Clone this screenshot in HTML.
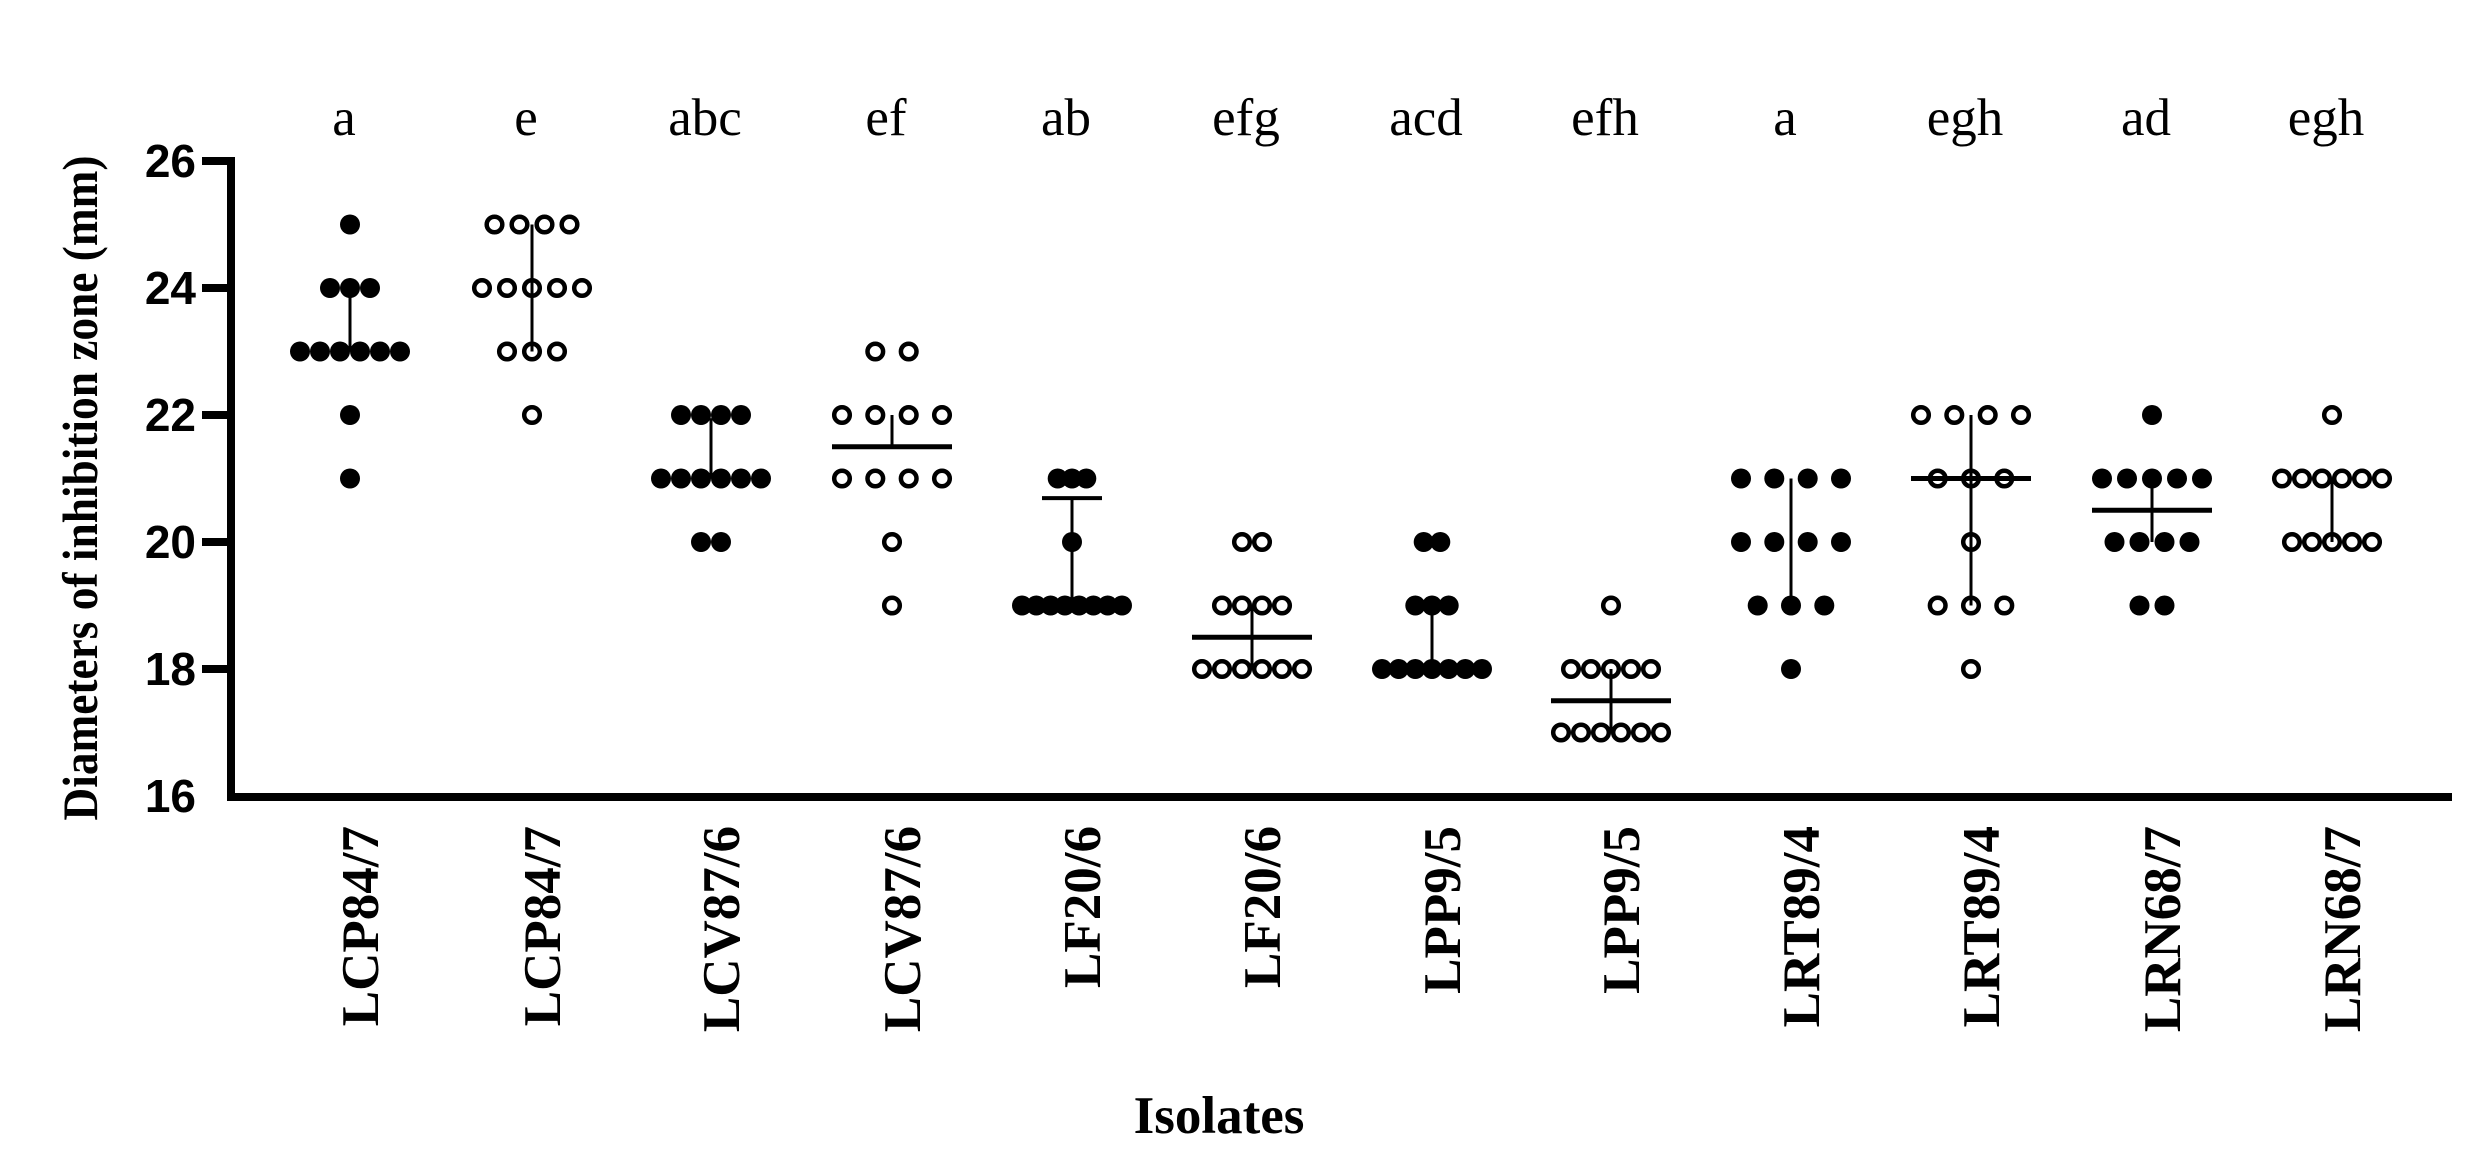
<!DOCTYPE html>
<html><head><meta charset="utf-8"><style>
html,body{margin:0;padding:0;background:#fff;}
svg{display:block;}
</style></head><body>
<svg id="s" width="2492" height="1157" viewBox="0 0 2492 1157" xmlns="http://www.w3.org/2000/svg">
<rect width="2492" height="1157" fill="#fff"/>
<g id="axes" stroke="#000" stroke-width="8" fill="none">
<line x1="231" y1="157" x2="231" y2="800"/>
<line x1="227" y1="797" x2="2452" y2="797"/>
<line x1="202" y1="161" x2="231" y2="161"/>
<line x1="202" y1="288" x2="231" y2="288"/>
<line x1="202" y1="415" x2="231" y2="415"/>
<line x1="202" y1="542" x2="231" y2="542"/>
<line x1="202" y1="669" x2="231" y2="669"/>
</g>
<g font-family="Liberation Sans, sans-serif" font-weight="bold" font-size="46" text-anchor="end">
<text x="196" y="177">26</text>
<text x="196" y="304">24</text>
<text x="196" y="431">22</text>
<text x="196" y="558">20</text>
<text x="196" y="685">18</text>
<text x="196" y="812">16</text>
</g>
<text transform="translate(97,488) rotate(-90)" font-family="Liberation Serif, serif" font-weight="bold" font-size="50" text-anchor="middle" textLength="665" lengthAdjust="spacingAndGlyphs">Diameters of inhibition zone (mm)</text>
<text x="1219" y="1133" font-family="Liberation Serif, serif" font-weight="bold" font-size="53" text-anchor="middle">Isolates</text>
<g id="data"></g>
</svg>
<script>
var cols=[350,532,711,892,1072,1252,1432,1611,1791,1971,2152,2332];
var names=["LCP84/7","LCP84/7","LCV87/6","LCV87/6","LF20/6","LF20/6","LPP9/5","LPP9/5","LRT89/4","LRT89/4","LRN68/7","LRN68/7"];
var lets=["a","e","abc","ef","ab","efg","acd","efh","a","egh","ad","egh"];
var data=[
 {v:{25:1,24:3,23:6,22:1,21:1},lo:23,hi:23.85,m:23,cap:false},
 {v:{25:4,24:5,23:3,22:1},lo:23,hi:25,m:24,cap:false},
 {v:{22:4,21:6,20:2},lo:21,hi:21.95,m:21,cap:false},
 {v:{23:2,22:4,21:4,20:1,19:1},lo:21.5,hi:22,m:21.5,cap:false,mw:true},
 {v:{21:3,20:1,19:8},lo:19,hi:20.69,m:19,cap:true},
 {v:{20:2,19:4,18:6},lo:18,hi:19,m:18.5,cap:false,mw:true},
 {v:{20:2,19:3,18:7},lo:18,hi:19,m:18,cap:false},
 {v:{19:1,18:5,17:6},lo:17,hi:18,m:17.5,cap:false,mw:true},
 {v:{21:4,20:4,19:3,18:1},lo:19,hi:21,m:20,cap:false},
 {v:{22:4,21:3,20:1,19:3,18:1},lo:19,hi:22,m:21,cap:false,mw:true},
 {v:{22:1,21:5,20:4,19:2},lo:20,hi:21,m:20.5,cap:false,mw:true},
 {v:{22:1,21:6,20:5},lo:20,hi:21,m:21,cap:false}
];
function Y(v){return 796-(v-16)*63.5;}
var s='';
for(var i=0;i<12;i++){
 var c=cols[i],d=data[i],open=(i%2==1);
 var maxN=0;for(var k in d.v)maxN=Math.max(maxN,d.v[k]);
 var step=Math.min(37,100/(maxN-1));
 s+='<line x1="'+c+'" y1="'+Y(d.lo)+'" x2="'+c+'" y2="'+Y(d.hi)+'" stroke="#000" stroke-width="3"/>';
 if(d.cap)s+='<line x1="'+(c-30)+'" y1="'+Y(d.hi)+'" x2="'+(c+30)+'" y2="'+Y(d.hi)+'" stroke="#000" stroke-width="4"/>';
 if(d.mw)s+='<line x1="'+(c-60)+'" y1="'+Y(d.m)+'" x2="'+(c+60)+'" y2="'+Y(d.m)+'" stroke="#000" stroke-width="5"/>';
 for(var k in d.v){
  var n=d.v[k],y=Y(+k);
  for(var j=0;j<n;j++){
   var x=c+(j-(n-1)/2)*step;
   if(open)s+='<circle cx="'+x.toFixed(1)+'" cy="'+y+'" r="7.8" fill="none" stroke="#000" stroke-width="4.5"/>';
   else s+='<circle cx="'+x.toFixed(1)+'" cy="'+y+'" r="10" fill="#000"/>';
  }
 }
 s+='<text x="'+(c-6)+'" y="135" font-family="Liberation Serif, serif" font-size="53" text-anchor="middle">'+lets[i]+'</text>';
 s+='<text transform="translate('+(c+28)+',826) rotate(-90)" font-family="Liberation Serif, serif" font-weight="bold" font-size="53" text-anchor="end">'+names[i]+'</text>';
}
document.getElementById('data').innerHTML=s;
</script>
</body></html>
